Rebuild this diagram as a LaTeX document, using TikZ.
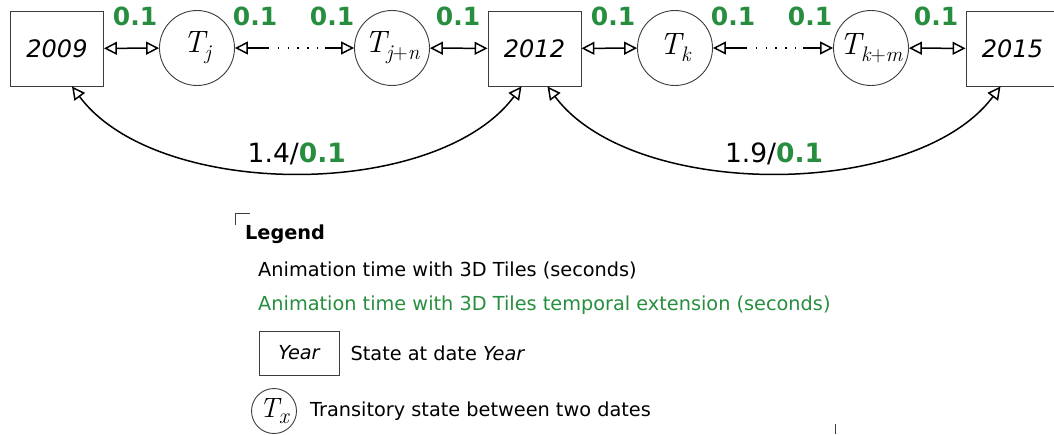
\documentclass[tikz,border=0pt]{standalone}
\usepackage{fontspec}
\setmainfont{DejaVu Sans}
\newfontfamily\lmfont{Latin Modern Roman}
\usetikzlibrary{arrows.meta,positioning}
\definecolor{tilegreen}{RGB}{38,142,62}
\definecolor{framegray}{RGB}{60,60,60}
% transitory state label: T with a lowered index
\newcommand{\tstate}[2][21]{{\lmfont\itshape T\raisebox{-0.22em}{\fontsize{#1}{#1}\selectfont #2}}}

\begin{document}
\begin{tikzpicture}[
    x=1pt, y=-1pt,
    >={Triangle[open,length=13pt,width=13pt]},
    yearbox/.style={
        rectangle,
        draw=framegray,
        line width=0.9pt,
        minimum width=93pt,
        minimum height=75pt,
        inner sep=0pt,
        font=\fontsize{24}{28}\selectfont\itshape
    },
    transit/.style={
        circle,
        draw=framegray,
        line width=0.9pt,
        minimum size=75pt,
        inner sep=0pt,
        font=\fontsize{31}{34}\selectfont
    },
    gain/.style={text=tilegreen, font=\fontsize{25}{30}\selectfont\bfseries},
    total/.style={font=\fontsize{26.5}{30}\selectfont},
    legendtext/.style={anchor=west, inner sep=0pt, font=\fontsize{19.3}{23}\selectfont},
    link/.style={<->, line width=1.5pt}
]
\useasboundingbox (0,0) rectangle (1054,434);

% states at dates
\node[yearbox] (y2009) at (57,48.5) {2009};
\node[yearbox] (y2012) at (534.5,48.5) {2012};
\node[yearbox] (y2015) at (1012.5,48.5) {2015};

% transitory states
\node[transit] (tj) at (197,48) {\tstate{j}};
\node[transit] (tjn) at (392,48) {\tstate{j{\upshape+}n}};
\node[transit] (tk) at (675,48) {\tstate{k}};
\node[transit] (tkm) at (871,48) {\tstate{k{\upshape+}m}};

\coordinate (tja) at (268,48);
\coordinate (tjb) at (325,48);
\coordinate (tka) at (746,48);
\coordinate (tkb) at (803,48);

\draw[link] (y2009) -- (tj);
\draw[->, line width=1.5pt] (tja) -- (tj);
\draw[line width=1.3pt, dash pattern=on 1.3pt off 8.5pt] (tja) -- (tjb);
\draw[->, line width=1.5pt] (tjb) -- (tjn);
\draw[link] (tjn) -- (y2012);

\draw[link] (y2012) -- (tk);
\draw[->, line width=1.5pt] (tka) -- (tk);
\draw[line width=1.3pt, dash pattern=on 1.3pt off 8.5pt] (tka) -- (tkb);
\draw[->, line width=1.5pt] (tkb) -- (tkm);
\draw[link] (tkm) -- (y2015);

% green times along the chain
\node[gain] at (135,16) {0.1};
\node[gain] at (255,16) {0.1};
\node[gain] at (332,16) {0.1};
\node[gain] at (458,16) {0.1};
\node[gain] at (613,16) {0.1};
\node[gain] at (733,16) {0.1};
\node[gain] at (810,16) {0.1};
\node[gain] at (936,16) {0.1};

% direct jumps between dates
\draw[link] ([xshift=15pt]y2009.south) .. controls +(85,114) and +(-85,114) .. ([xshift=-13pt]y2012.south)
    node[midway, above=3pt, total] {1.4/\textcolor{tilegreen}{\bfseries 0.1}};
\draw[link] ([xshift=13pt]y2012.south) .. controls +(85,114) and +(-85,114) .. ([xshift=-12pt]y2015.south)
    node[midway, above=3pt, total] {1.9/\textcolor{tilegreen}{\bfseries 0.1}};

% legend
\draw[line width=0.9pt, framegray] (235,225) -- (235,213) -- (250,213);
\draw[line width=0.9pt, framegray] (835,424) -- (835,434);
\node[legendtext, font=\fontsize{19.3}{23}\selectfont\bfseries] (legend) at (245,234) {Legend};
\node[legendtext] (plain) at (258,270) {Animation time with 3D Tiles (seconds)};
\node[legendtext, text=tilegreen] (ext) at (258,305) {Animation time with 3D Tiles temporal extension (seconds)};
\node[yearbox, minimum width=80pt, minimum height=44pt, font=\fontsize{19.3}{23}\selectfont\itshape] (ybox) at (299,353) {Year};
\node[legendtext, right=11pt of ybox] (ytext) {State at date \textit{Year}};
\node[transit, minimum size=45pt, font=\fontsize{28}{30}\selectfont] (tx) at (274,411) {\tstate[22]{x}};
\node[legendtext, right=13pt of tx] (txtext) {Transitory state between two dates};
\end{tikzpicture}
\end{document}
